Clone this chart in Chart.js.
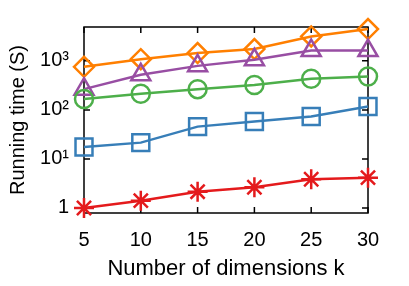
<!DOCTYPE html>
<html>
<head>
<meta charset="utf-8">
<script src="https://cdn.jsdelivr.net/npm/chart.js@4/dist/chart.umd.min.js"></script>
<style>
  html, body { margin: 0; padding: 0; background: #fff; }
  #wrap { width: 409px; height: 286px; }
</style>
</head>
<body>
<div id="wrap"><canvas id="graficoTiempo"></canvas></div>
<script>
const dims = ["5", "10", "15", "20", "25", "30"];
const tiempoNaranja = [755, 1080, 1440, 1740, 3150, 4450];
const tiempoMorado = [265, 520, 790, 1050, 1620, 1620];
const tiempoVerde = [167, 213, 265, 322, 430, 478];
const tiempoAzul = [17.6, 21.5, 45.6, 57.7, 73, 117];
const tiempoRojo = [1.0, 1.41, 2.15, 2.64, 3.85, 4.15];
const yTicks = [1, 10, 100, 1000];
const yLabels = ["1", "10\u00b9", "10\u00b2", "10\u00b3"];

const fuente = "'Liberation Sans', Arial, Helvetica, sans-serif";

// marco negro con marcas hacia dentro en los cuatro lados
const marco = {
  id: "marco",
  beforeDatasetsDraw(chart) {
    const { ctx, chartArea: a, scales } = chart;
    const len = 6;
    ctx.save();
    ctx.strokeStyle = "#000";
    ctx.lineWidth = 1.5;
    ctx.strokeRect(a.left, a.top, a.right - a.left, a.bottom - a.top);
    ctx.beginPath();
    scales.x.ticks.forEach((t, i) => {
      const px = scales.x.getPixelForTick(i);
      ctx.moveTo(px, a.bottom); ctx.lineTo(px, a.bottom - len);
      ctx.moveTo(px, a.top); ctx.lineTo(px, a.top + len);
    });
    scales.y.ticks.forEach((t) => {
      const py = scales.y.getPixelForValue(t.value);
      ctx.moveTo(a.left, py); ctx.lineTo(a.left + len, py);
      ctx.moveTo(a.right, py); ctx.lineTo(a.right - len, py);
    });
    ctx.stroke();
    ctx.restore();
  },
};

const serie = (data, color, estilo, radio) => ({
  data: data,
  borderColor: color,
  backgroundColor: "rgba(0,0,0,0)",
  pointBorderColor: color,
  pointBackgroundColor: "rgba(0,0,0,0)",
  pointStyle: estilo,
  pointRadius: radio,
  pointBorderWidth: 2.5,
  borderWidth: 2.5,
  tension: 0,
  clip: false,
});

new Chart(document.getElementById("graficoTiempo"), {
  type: "line",
  data: {
    labels: dims,
    datasets: [
      serie(tiempoRojo, "#e41a1c", "star", 10),
      serie(tiempoAzul, "#377eb8", "rect", 12),
      serie(tiempoVerde, "#4daf4a", "circle", 9),
      serie(tiempoMorado, "#984ea3", "triangle", 11),
      serie(tiempoNaranja, "#ff7f00", "rectRot", 10),
    ],
  },
  options: {
    responsive: true,
    maintainAspectRatio: false,
    animation: false,
    layout: { padding: { top: 27, right: 41, left: 4, bottom: 4 } },
    plugins: { legend: { display: false }, tooltip: { enabled: false } },
    scales: {
      x: {
        type: "category",
        offset: false,
        grid: { display: false, drawTicks: false },
        border: { display: false },
        ticks: { color: "#000", font: { family: fuente, size: 20 }, padding: 15, maxRotation: 0 },
        title: {
          display: true,
          text: "Number of dimensions k",
          color: "#000",
          font: { family: fuente, size: 22 },
          padding: 0,
        },
        afterFit: (s) => { s.height = 286 - 213 - 4; },
      },
      y: {
        type: "logarithmic",
        min: 0.79,
        max: 4900,
        afterBuildTicks: (s) => { s.ticks = yTicks.map((v) => ({ value: v })); },
        grid: { display: false, drawTicks: false },
        border: { display: false },
        ticks: {
          color: "#000",
          font: { family: fuente, size: 20 },
          padding: 15,
          callback: (v) => yLabels[yTicks.indexOf(v)],
        },
        title: {
          display: true,
          text: "Running time (S)",
          color: "#000",
          font: { family: fuente, size: 20 },
          padding: { top: 2, bottom: 0 },
        },
        afterFit: (s) => { s.width = 84 - 4; },
      },
    },
  },
  plugins: [marco],
});
</script>
</body>
</html>
